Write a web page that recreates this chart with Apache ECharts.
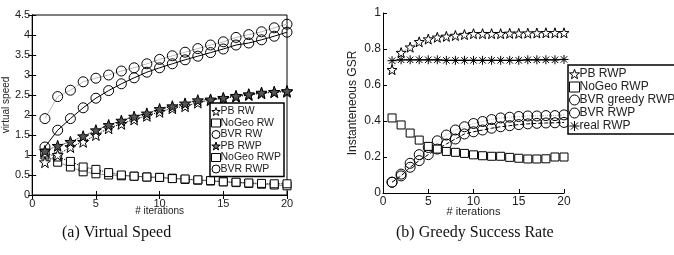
<!DOCTYPE html>
<html>
<head>
<meta charset="utf-8">
<script src="https://cdn.jsdelivr.net/npm/echarts@6/dist/echarts.min.js"></script>
<style>
  html, body { margin: 0; padding: 0; background: #fff; }
  #chart { width: 674px; height: 255px; }
</style>
</head>
<body>
<div id="chart"></div>
<script>
// x values (# iterations)
const iterations = [1, 2, 3, 4, 5, 6, 7, 8, 9, 10, 11, 12, 13, 14, 15, 16, 17, 18, 19, 20];

// (a) virtual speed
const pbRW = [0.82, 1.0, 1.2, 1.33, 1.5, 1.67, 1.78, 1.89, 1.98, 2.08, 2.17, 2.22, 2.31, 2.37, 2.41, 2.46, 2.5, 2.54, 2.57, 2.58];
const noGeoRW = [1.05, 0.95, 0.84, 0.7, 0.64, 0.56, 0.5, 0.47, 0.45, 0.44, 0.41, 0.4, 0.38, 0.36, 0.33, 0.32, 0.3, 0.29, 0.28, 0.28];
const bvrRW = [1.2, 1.62, 1.91, 2.18, 2.42, 2.61, 2.78, 2.93, 3.07, 3.18, 3.28, 3.38, 3.47, 3.56, 3.65, 3.75, 3.8, 3.88, 3.97, 4.07];
const pbRWP = [1.1, 1.23, 1.33, 1.47, 1.62, 1.75, 1.86, 1.96, 2.04, 2.15, 2.22, 2.29, 2.37, 2.39, 2.43, 2.48, 2.52, 2.56, 2.58, 2.6];
const noGeoRWP = [1.0, 0.82, 0.7, 0.58, 0.53, 0.5, 0.48, 0.47, 0.45, 0.44, 0.42, 0.39, 0.37, 0.35, 0.33, 0.31, 0.29, 0.27, 0.25, 0.23];
const bvrRWP = [1.91, 2.46, 2.62, 2.83, 2.92, 3.0, 3.1, 3.18, 3.28, 3.39, 3.48, 3.57, 3.66, 3.75, 3.83, 3.94, 4.01, 4.08, 4.18, 4.27];

// (b) greedy success rate
const gsrPB = [0.685, 0.78, 0.81, 0.84, 0.855, 0.865, 0.87, 0.875, 0.88, 0.885, 0.885, 0.885, 0.885, 0.887, 0.887, 0.888, 0.889, 0.89, 0.89, 0.89];
const gsrNoGeo = [0.417, 0.378, 0.333, 0.294, 0.259, 0.244, 0.231, 0.226, 0.22, 0.212, 0.207, 0.204, 0.204, 0.198, 0.193, 0.189, 0.189, 0.19, 0.2, 0.2];
const gsrBvrGreedy = [0.06, 0.105, 0.165, 0.213, 0.253, 0.29, 0.322, 0.35, 0.368, 0.386, 0.397, 0.408, 0.417, 0.421, 0.425, 0.428, 0.428, 0.43, 0.43, 0.434];
const gsrBvr = [0.06, 0.095, 0.143, 0.18, 0.213, 0.244, 0.272, 0.3, 0.328, 0.34, 0.35, 0.36, 0.368, 0.374, 0.38, 0.384, 0.387, 0.389, 0.39, 0.392];
const gsrReal = [0.735, 0.74, 0.74, 0.74, 0.74, 0.74, 0.737, 0.737, 0.737, 0.737, 0.737, 0.737, 0.737, 0.737, 0.737, 0.74, 0.74, 0.74, 0.74, 0.742];

const speedTicks = [0, 0.5, 1, 1.5, 2, 2.5, 3, 3.5, 4, 4.5];
const gsrTicks = [0, 0.2, 0.4, 0.6, 0.8, 1];

const STAR = "path://M0,-10L2.35,-3.24L9.51,-3.09L3.8,1.24L5.88,8.09L0,4L-5.88,8.09L-3.8,1.24L-9.51,-3.09L-2.35,-3.24Z";
const ASTER = "path://M-5,0L5,0M0,-5L0,5M-3.6,-3.6L3.6,3.6M-3.6,3.6L3.6,-3.6";
const CLEAR = "rgba(255,255,255,0)";

const pairs = (ys) => iterations.map((x, i) => [x, ys[i]]);
const font = "Liberation Sans";

const mk = (name, data, grid, symbol, size, fill, line, lineType, lineWidth) => ({
  name: name,
  type: "line",
  xAxisIndex: grid,
  yAxisIndex: grid,
  data: pairs(data),
  symbol: symbol,
  symbolSize: size,
  showAllSymbol: true,
  itemStyle: { color: fill, borderColor: "#000", borderWidth: 1 },
  lineStyle: { color: line, type: lineType, width: lineWidth },
  emphasis: { disabled: true },
  animation: false,
});

// legend entry with its own icon style
const lg = (name, icon, fill) => ({
  name: name,
  icon: icon,
  itemStyle: { color: fill, borderColor: "#000", borderWidth: 1 },
});

const tickAxis = (extra) => Object.assign({
  type: "value",
  axisLine: { show: true, lineStyle: { color: "#000", width: 1 } },
  axisTick: { show: true, inside: true, length: 4, lineStyle: { color: "#000" } },
  splitLine: { show: false },
  axisLabel: { color: "#222", fontFamily: font, fontSize: 11, margin: 3 },
}, extra);

const chart = echarts.init(document.getElementById("chart"));
const option = {
  animation: false,
  grid: [
    { left: 32, right: 387, top: 15, bottom: 60, show: true, borderColor: "#000", borderWidth: 1 },
    { left: 383, right: 110, top: 13, bottom: 62 },
  ],
  xAxis: [
    tickAxis({
      gridIndex: 0, min: 0, max: 20, interval: 5,
      name: "# iterations", nameLocation: "middle", nameGap: 11, nameMoveOverlap: false,
      nameTextStyle: { fontFamily: font, fontSize: 10, color: "#222" },
    }),
    tickAxis({
      gridIndex: 1, min: 0, max: 20, interval: 5,
      name: "# iterations", nameLocation: "middle", nameGap: 13, nameMoveOverlap: false,
      nameTextStyle: { fontFamily: font, fontSize: 11, color: "#222" },
      axisLabel: { color: "#222", fontFamily: font, fontSize: 12, margin: 3 },
    }),
    tickAxis({ gridIndex: 0, min: 0, max: 20, interval: 5, position: "top", axisLabel: { show: false } }),
  ],
  yAxis: [
    tickAxis({
      gridIndex: 0, min: 0, max: 4.5, interval: 0.5,
      name: "virtual speed", nameLocation: "middle", nameGap: 20,
      nameTextStyle: { fontFamily: font, fontSize: 10, color: "#222" },
      axisLabel: { color: "#222", fontFamily: font, fontSize: 11, margin: 2, formatter: (v) => String(speedTicks.find((t) => Math.abs(t - v) < 1e-9) ?? v) },
    }),
    tickAxis({
      gridIndex: 1, min: 0, max: 1, interval: 0.2,
      name: "Instanteneous GSR", nameLocation: "middle", nameGap: 24,
      nameTextStyle: { fontFamily: font, fontSize: 12, color: "#222" },
      axisLabel: { color: "#222", fontFamily: font, fontSize: 12, margin: 2, formatter: (v) => String(gsrTicks.find((t) => Math.abs(t - v) < 1e-9) ?? v) },
    }),
    tickAxis({ gridIndex: 0, min: 0, max: 4.5, interval: 0.5, position: "right", axisLabel: { show: false } }),
  ],
  legend: [
    {
      data: [
        lg("PB RW", STAR, "#fff"),
        lg("NoGeo RW", "rect", "#fff"),
        lg("BVR RW", "circle", CLEAR),
        lg("PB RWP", STAR, "#666"),
        lg("NoGeo RWP", "rect", "#fff"),
        lg("BVR RWP", "circle", CLEAR),
      ],
      orient: "vertical",
      left: 210, top: 103,
      itemWidth: 9, itemHeight: 8, itemGap: 0.5,
      padding: [3, 3, 2, 1],
      backgroundColor: "#fff",
      borderColor: "#000", borderWidth: 1.5, borderRadius: 0,
      textStyle: { fontFamily: font, fontSize: 10.5, color: "#222", padding: [0, 0, 0, -5] },
      selectedMode: false,
    },
    {
      data: [
        lg("PB  RWP", STAR, "#fff"),
        lg("NoGeo  RWP", "rect", "#fff"),
        lg("BVR greedy RWP", "circle", CLEAR),
        lg("BVR  RWP", "circle", CLEAR),
        lg("real RWP", ASTER, "#000"),
      ],
      formatter: (n) => n.replace(/  /g, " "),
      orient: "vertical",
      left: 568, top: 65,
      itemWidth: 10, itemHeight: 10, itemGap: 1,
      padding: [3, 8, 2, 1],
      backgroundColor: "#fff",
      borderColor: "#000", borderWidth: 1.5, borderRadius: 0,
      textStyle: { fontFamily: font, fontSize: 12, color: "#222", padding: [0, 0, 0, -5] },
      selectedMode: false,
    },
  ],
  series: [
    mk("BVR RWP", bvrRWP, 0, "circle", 10, CLEAR, "#bbb", "solid", 1),
    mk("BVR RW", bvrRW, 0, "circle", 10, CLEAR, "#000", "solid", 1),
    mk("NoGeo RWP", noGeoRWP, 0, "rect", 8, "#fff", "#999", "solid", 1),
    mk("NoGeo RW", noGeoRW, 0, "rect", 8, "#fff", "#000", "dotted", 1),
    mk("PB RW", pbRW, 0, STAR, 11, "#fff", "#000", "dotted", 1),
    mk("PB RWP", pbRWP, 0, STAR, 11, "#555", "#000", "dotted", 1),

    mk("BVR greedy RWP", gsrBvrGreedy, 1, "circle", 10, CLEAR, "#bbb", "dotted", 1),
    mk("BVR  RWP", gsrBvr, 1, "circle", 10, CLEAR, "#000", "dashed", 1),
    mk("NoGeo  RWP", gsrNoGeo, 1, "rect", 8, "#fff", "#bbb", "dotted", 1),
    mk("real RWP", gsrReal, 1, ASTER, 9, "#000", "#000", "solid", 1.2),
    mk("PB  RWP", gsrPB, 1, STAR, 10, "#fff", "#aaa", "dotted", 1),
  ],
  graphic: [
    { type: "text", left: 62, top: 225, style: { text: "(a) Virtual Speed", font: "16px 'Liberation Serif'", fill: "#111" } },
    { type: "text", left: 396, top: 225, style: { text: "(b) Greedy Success Rate", font: "16px 'Liberation Serif'", fill: "#111" } },
  ],
};
chart.setOption(option);
</script>
</body>
</html>
